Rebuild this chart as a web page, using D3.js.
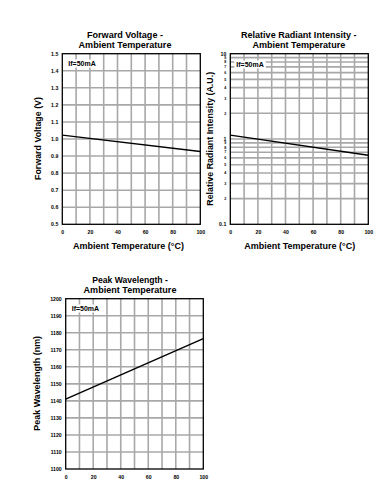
<!DOCTYPE html>
<html><head><meta charset="utf-8">
<script src="https://cdn.jsdelivr.net/npm/d3@7"></script>
<style>body{margin:0;background:#fff;}svg{display:block;font-family:"Liberation Sans",Arial,sans-serif;font-weight:bold;}</style>
</head><body>
<svg id="c" width="392" height="487"></svg>
<script>
const temps = [0, 100];
const fwdVoltage = [1.023, 0.927];
const radiantIntensity = [1.11, 0.645];
const peakWavelength = [1141, 1176.5];
const xTicks = [0, 20, 40, 60, 80, 100];
const fvTicks = [0.5,0.6,0.7,0.8,0.9,1.0,1.1,1.2,1.3,1.4,1.5];
const pwTicks = [1100,1110,1120,1130,1140,1150,1160,1170,1180,1190,1200];
const riMajor = [0.1, 1, 10];
const riMinor = [0.2,0.3,0.4,0.5,0.6,0.7,0.8,0.9,2,3,4,5,6,7,8,9];
const label = "If=50mA";

const svg = d3.select("#c");
const gridColor = "#a8a8a8";

function fit(sel, w){
  const len = sel.node().getComputedTextLength();
  const fs = parseFloat(sel.attr("font-size"));
  sel.attr("font-size", (fs * w / len).toFixed(2));
  return sel;
}

function panel(o){
  const g = svg.append("g");
  const x = d3.scaleLinear().domain([0,100]).range([o.x0, o.x1]);
  const y = o.y;
  d3.range(10, 100, 10).forEach(t => {
    g.append("line").attr("x1", x(t)).attr("x2", x(t)).attr("y1", o.y0).attr("y2", o.y1)
      .attr("stroke", gridColor).attr("stroke-width", 1.6);
  });
  o.hgrid.forEach(v => {
    g.append("line").attr("x1", o.x0).attr("x2", o.x1).attr("y1", y(v)).attr("y2", y(v))
      .attr("stroke", gridColor).attr("stroke-width", 1.6);
  });
  const lt = g.append("text").attr("x", o.x0 + 6).attr("y", o.labelY).attr("font-size", 7)
      .attr("fill", "#000").text(label);
  const bb = lt.node().getBBox();
  g.insert("rect", "text").attr("x", bb.x - 2).attr("y", bb.y - 0.5).attr("width", bb.width + 4).attr("height", bb.height + 1).attr("fill", "#fff");
  const line = d3.line().x((d,i) => x(temps[i])).y(d => y(d));
  g.append("path").datum(o.data).attr("d", line).attr("fill", "none").attr("stroke", "#000").attr("stroke-width", 1.4);
  g.append("rect").attr("x", o.x0).attr("y", o.y0).attr("width", o.x1 - o.x0).attr("height", o.y1 - o.y0)
    .attr("fill", "none").attr("stroke", "#000").attr("stroke-width", 1.3);
  const xa = g.append("g").attr("transform", `translate(0,${o.y1 + 3})`)
    .call(d3.axisBottom(x).tickValues(xTicks).tickSize(0).tickFormat(d3.format("d")));
  xa.select(".domain").remove();
  xa.selectAll("text").attr("font-size", 5.2).attr("font-family", "Liberation Sans, Arial, sans-serif").attr("font-weight", "bold").attr("fill", "#000");
  o.ylabels.forEach(t => {
    g.append("text").attr("x", o.x0 - 4).attr("y", y(t.v)).attr("dy", "0.35em")
      .attr("text-anchor", "end").attr("font-size", t.s).attr("fill", "#000").text(t.t);
  });
  fit(g.append("text").attr("x", o.tcx).attr("y", o.y0 - 16).attr("text-anchor", "middle").attr("font-size", 9.5).text(o.title1), o.tw1);
  fit(g.append("text").attr("x", o.tcx).attr("y", o.y0 - 5.5).attr("text-anchor", "middle").attr("font-size", 9.5).text("Ambient Temperature"), 93);
  if (o.xTitle) fit(g.append("text").attr("x", o.xcx).attr("y", o.y1 + 25).attr("text-anchor", "middle").attr("font-size", 9).text("Ambient Temperature (°C)"), 111);
  fit(g.append("text").attr("transform", `translate(${o.ytx},${o.ycy}) rotate(-90)`).attr("text-anchor", "middle").attr("font-size", 8.6).text(o.yTitle), o.ytw);
}

const y1 = d3.scaleLinear().domain([0.5, 1.5]).range([224.3, 53.7]);
panel({x0: 62.3, x1: 200.3, y0: 53.7, y1: 224.3, y: y1, hgrid: fvTicks.slice(1, -1),
  data: fwdVoltage, labelY: 66,
  ylabels: fvTicks.map(v => ({v, t: v.toFixed(1), s: 5.2})),
  title1: "Forward Voltage -", tw1: 76, tcx: 125, xTitle: true, xcx: 128.5,
  yTitle: "Forward Voltage (V)", ytx: 41, ycy: 138.5, ytw: 83});

const y2 = d3.scaleLog().domain([0.1, 10]).range([224.3, 53.7]);
panel({x0: 230.3, x1: 368.3, y0: 53.7, y1: 224.3, y: y2, hgrid: riMinor.concat([1]),
  data: radiantIntensity, labelY: 67,
  ylabels: riMajor.map(v => ({v, t: String(v), s: 5.2})).concat(riMinor.map(v => ({v, t: String(v < 1 ? Math.round(v * 10) : v), s: 3.6}))),
  title1: "Relative Radiant Intensity -", tw1: 115.7, tcx: 298.8, xTitle: true, xcx: 299.7,
  yTitle: "Relative Radiant Intensity (A.U.)", ytx: 213, ycy: 138.8, ytw: 134});

const y3 = d3.scaleLinear().domain([1100, 1200]).range([469, 298.7]);
panel({x0: 65.7, x1: 203.3, y0: 298.7, y1: 469, y: y3, hgrid: pwTicks.slice(1, -1),
  data: peakWavelength, labelY: 311,
  ylabels: pwTicks.map(v => ({v, t: String(v), s: 5.2})),
  title1: "Peak Wavelength -", tw1: 75.7, tcx: 130, xTitle: false,
  yTitle: "Peak Wavelength (nm)", ytx: 40, ycy: 383.3, ytw: 94.7});
</script>
</body></html>
